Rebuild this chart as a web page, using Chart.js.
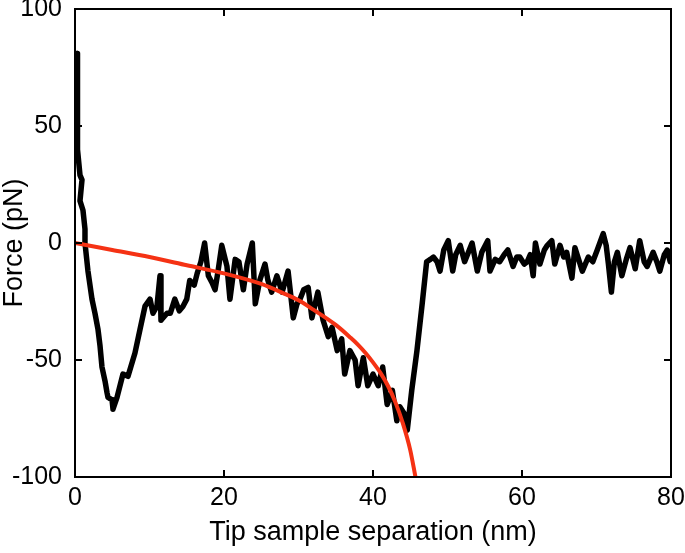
<!DOCTYPE html>
<html>
<head>
<meta charset="utf-8">
<title>Force curve</title>
<script src="https://cdn.jsdelivr.net/npm/chart.js@4.4.0/dist/chart.umd.min.js"></script>
<style>
  html, body { margin: 0; padding: 0; background: #fff; }
  #chart { display: block; }
</style>
</head>
<body>
<canvas id="chart" width="685" height="553"></canvas>
<script>
const separation = [
  0.27, 0.27, 0.4, 0.67, 0.94, 0.67, 1.07, 1.34, 1.34, 1.74, 2.28, 2.68, 3.09, 3.36, 3.62, 4.03, 4.3, 4.43, 4.97, 5.1,
  5.64, 6.44, 7.11, 8.05, 8.72, 9.4, 10.07, 10.47, 11.0, 11.41, 11.54, 12.35,
  12.8, 13.4, 14.0, 14.5, 15.0, 15.4, 16.0, 16.4,
  16.9, 17.4, 17.9, 18.4, 18.8, 19.2, 19.7, 20.4, 20.8, 21.5, 22.0, 22.6, 23.1, 23.8, 24.2, 24.8, 25.5, 25.9, 26.4, 27.1,
  27.8, 28.6, 29.3, 29.8, 30.2, 30.7, 31.3, 31.8, 32.6, 33.3, 34.0, 34.5, 35.2, 35.8, 36.2, 36.9, 37.6, 38.0, 38.7, 39.3,
  40.0, 40.7, 41.3, 41.9, 42.6, 43.2, 43.6, 44.2, 44.6, 45.2, 45.9, 46.6, 47.2, 47.7, 48.1, 48.6, 49.0, 49.5, 50.1, 50.7,
  51.1, 51.7, 52.3, 53.3, 54.0, 54.6, 55.4, 55.7, 56.4, 57.0, 57.6, 58.1, 58.8, 59.3, 59.7, 60.3, 60.7, 61.1, 61.5, 61.8,
  62.4, 63.0, 63.4, 64.0, 64.4, 65.1, 65.6, 66.0, 66.7, 67.1, 67.7, 68.1, 68.9, 69.5, 70.1, 70.9, 71.3, 71.6, 72.0, 72.4,
  72.8, 73.4, 74.0, 74.5, 75.2, 75.8, 76.4, 76.8, 77.6, 78.1, 78.5, 79.1, 79.5, 79.9
];
const force = [
  81, 60, 40, 29, 27, 18, 14, 6, 0, -12, -24, -30, -37, -44, -53, -59, -64, -66, -67, -71,
  -66, -56, -57, -47, -37, -27, -24, -30, -27, -14, -33, -30,
  -30, -24, -29, -27, -24, -16, -18, -13,
  -8, 0, -14, -17, -20, -12, -1, -10, -24, -7, -8, -20, -9, 0, -26, -16, -9, -16, -21, -14,
  -21, -12, -32, -26, -24, -20, -19, -32, -21, -33, -40, -36, -46, -41, -56, -46, -50, -61, -49, -61,
  -56, -61, -53, -69, -63, -76, -70, -73, -80, -63, -46, -26, -8, -7, -6, -8, -12, -3, 1, -12,
  -5, -1, -8, 0, -12, -4, 1, -12, -7, -8, -5, -3, -10, -6, -6, -9, -8, -5, -14, 0,
  -9, -3, -1, 1, -9, -1, -6, -4, -15, -2, -8, -12, -6, -8, -3, 4, -1, -9, -21, -8,
  -4, -14, -7, -2, -11, 1, -8, -10, -4, -8, -12, -5, -3, -8
];

// Fitted curve
const fitSeparation = [0, 5, 10, 15, 20, 25, 28, 30, 32, 35, 37, 38, 39, 40, 41, 42, 43, 44, 45, 45.7];
const fitForce = [0, -3, -6, -9.5, -13, -17.5, -21.5, -24.5, -28.5, -35, -40.5, -43.5, -47, -51, -55.5, -61, -68, -77, -88.5, -100];

// Axis ticks
const xTicks = [0, 20, 40, 60, 80];
const yTicks = [-100, -50, 0, 50, 100];

const FONT = '"Liberation Sans", Arial, Helvetica, sans-serif';

// Frame on all four sides with inward ticks
const frameTicks = {
  id: 'frameTicks',
  afterDatasetsDraw(chart) {
    const { ctx, chartArea: a, scales: { x, y } } = chart;
    const len = 7;
    ctx.save();
    ctx.strokeStyle = '#000';
    ctx.lineWidth = 2;
    ctx.strokeRect(a.left, a.top, a.right - a.left, a.bottom - a.top);
    ctx.beginPath();
    xTicks.forEach(v => {
      const px = x.getPixelForValue(v);
      ctx.moveTo(px, a.bottom); ctx.lineTo(px, a.bottom - len);
      ctx.moveTo(px, a.top); ctx.lineTo(px, a.top + len);
    });
    yTicks.forEach(v => {
      const py = y.getPixelForValue(v);
      ctx.moveTo(a.left, py); ctx.lineTo(a.left + len, py);
      ctx.moveTo(a.right, py); ctx.lineTo(a.right - len, py);
    });
    ctx.stroke();
    ctx.restore();
  }
};

const ctx = document.getElementById('chart').getContext('2d');
new Chart(ctx, {
  type: 'line',
  data: {
    datasets: [
      {
        label: 'Fit',
        data: fitSeparation.map((s, i) => ({ x: s, y: fitForce[i] })),
        borderColor: 'rgb(245, 50, 20)',
        borderWidth: 4,
        pointRadius: 0,
        cubicInterpolationMode: 'monotone',
        fill: false
      },
      {
        label: 'Force',
        data: separation.map((s, i) => ({ x: s, y: force[i] })),
        borderColor: '#000',
        borderWidth: 5.5,
        borderJoinStyle: 'round',
        borderCapStyle: 'round',
        pointRadius: 0,
        tension: 0,
        fill: false
      }
    ]
  },
  options: {
    responsive: false,
    animation: false,
    devicePixelRatio: 1,
    layout: { padding: { top: 9, right: 14, left: 0, bottom: 0 } },
    plugins: {
      legend: { display: false },
      tooltip: { enabled: false }
    },
    scales: {
      x: {
        type: 'linear',
        min: 0,
        max: 80,
        afterBuildTicks: scale => { scale.ticks = xTicks.map(v => ({ value: v })); },
        afterFit: scale => { scale.height = 76; scale.paddingLeft = 0; scale.paddingRight = 0; },
        grid: { display: false, drawTicks: false },
        border: { display: false },
        ticks: {
          color: '#000',
          padding: 6,
          maxRotation: 0,
          font: { family: FONT, size: 25 }
        },
        title: {
          display: true,
          text: 'Tip sample separation (nm)',
          color: '#000',
          font: { family: FONT, size: 27, lineHeight: 1 },
          padding: { top: 0, bottom: 7 }
        }
      },
      y: {
        type: 'linear',
        min: -100,
        max: 100,
        afterBuildTicks: scale => { scale.ticks = yTicks.map(v => ({ value: v })); },
        afterFit: scale => { scale.width = 75; scale.paddingTop = 0; scale.paddingBottom = 0; },
        grid: { display: false, drawTicks: false },
        border: { display: false },
        ticks: {
          color: '#000',
          padding: 13,
          font: { family: FONT, size: 25 }
        },
        title: {
          display: true,
          text: 'Force (pN)',
          color: '#000',
          font: { family: FONT, size: 27, lineHeight: 1 },
          padding: { top: 1, bottom: 0 }
        }
      }
    }
  },
  plugins: [frameTicks]
});
</script>
</body>
</html>
